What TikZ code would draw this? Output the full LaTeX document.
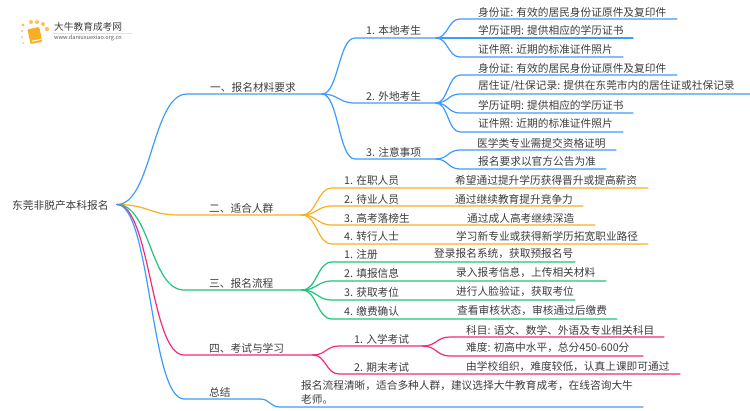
\documentclass[tikz,border=0pt]{standalone}
\usepackage{fontspec}
\setmainfont{Noto Sans CJK SC}
\usepackage{tikz}
\usetikzlibrary{calc}
\definecolor{blueline}{HTML}{3D9BFF}
\definecolor{orangeline}{HTML}{F9AE23}
\definecolor{greenline}{HTML}{1EC47E}
\definecolor{pinkline}{HTML}{F5287A}
\definecolor{labelgray}{HTML}{3C3C3C}
\tikzset{
	label/.style={anchor=west, inner sep=0pt, text=labelgray, font=\fontsize{10.7}{14}\selectfont},
	branchline/.style={line width=1.2pt, line cap=round}
}
\def\branch[#1](#2)(#3)(#4){\draw[branchline, color=#1] let \p1=(#2), \p2=(#3) in (#2) .. controls ({0.5*\x1+0.5*\x2}, \y1) and ({0.5*\x1+0.5*\x2}, \y2) .. (#3) -- (#4);}
\begin{document}
\begin{tikzpicture}[x=1pt, y=-1pt]
		\useasboundingbox (0, 0) rectangle (750, 410);
		
		%%%%% LOGO %%%%%
		\fill[orangeline, rotate around={12:(35, 36)}, rounded corners=1pt] (29, 28) rectangle (41, 43);
		\fill[white, rotate around={12:(35, 36)}] (31, 40) rectangle (41, 41);
		\foreach \dx/\dy/\dr in {23/25/1.6, 31/22/2, 37/22/2, 43/24/2, 47/29/2.2, 22/31/1.2, 22/37/1, 23/43/1}
			\fill[color=orangeline!75] (\dx, \dy) circle (\dr pt);
		\node[label, font=\fontsize{9.7}{12}\selectfont] (logotitle) at (54, 27) {大牛教育成考网};
		\node[label, font=\fontsize{5.6}{7}\selectfont, text=black!65] (logourl) at (54, 38) {www.daniuxuexiao.org.cn};
		\fill[black!12] (54, 33) rectangle (132, 33.5);
		
		%%%%% ROOT %%%%%
		\node[label] (root) at (12, 205) {东莞非脱产本科报名};
		\coordinate (rootend) at (117, 204.5);
		
		%%%%% ONE %%%%%
		\node[label] (one) at (210, 87) {一、报名材料要求};
		\coordinate (oneleft) at (187, 94);
		\coordinate (oneright) at (322, 94);
		\branch[blueline](rootend)(oneleft)(oneright);
		
		\node[label] (onea) at (366, 30) {1. 本地考生};
		\coordinate (onealeft) at (355, 38);
		\coordinate (onearight) at (436, 38);
		\branch[blueline](oneright)(onealeft)(onearight);
		\node[label] (oneb) at (366, 96) {2. 外地考生};
		\coordinate (oneblft) at (355, 103);
		\coordinate (onebright) at (436, 103);
		\branch[blueline](oneright)(oneblft)(onebright);
		\node[label] (onec) at (366, 152) {3. 注意事项};
		\coordinate (oneclft) at (355, 159);
		\coordinate (onecright) at (436, 159);
		\branch[blueline](oneright)(oneclft)(onecright);
		
		\node[label] (aa) at (478, 12) {身份证: 有效的居民身份证原件及复印件};
		\coordinate (aal) at (460, 19);
		\coordinate (aar) at (677, 19);
		\branch[blueline](onearight)(aal)(aar);
		\node[label] (ab) at (478, 30.5) {学历证明: 提供相应的学历证书};
		\coordinate (abl) at (460, 38);
		\coordinate (abr) at (633, 38);
		\branch[blueline](onearight)(abl)(abr);
		\node[label] (ac) at (478, 49) {证件照: 近期的标准证件照片};
		\coordinate (acl) at (460, 57);
		\coordinate (acr) at (623, 57);
		\branch[blueline](onearight)(acl)(acr);
		
		\node[label] (ba) at (478, 68) {身份证: 有效的居民身份证原件及复印件};
		\coordinate (bal) at (460, 75);
		\coordinate (bar) at (677, 75);
		\branch[blueline](onebright)(bal)(bar);
		\node[label] (bb) at (478, 86) {居住证/社保记录: 提供在东莞市内的居住证或社保记录};
		\coordinate (bbl) at (460, 94);
		\coordinate (bbr) at (750, 94);
		\branch[blueline](onebright)(bbl)(bbr);
		\node[label] (bc) at (478, 105) {学历证明: 提供相应的学历证书};
		\coordinate (bcl) at (460, 113);
		\coordinate (bcr) at (633, 113);
		\branch[blueline](onebright)(bcl)(bcr);
		\node[label] (bd) at (478, 123.5) {证件照: 近期的标准证件照片};
		\coordinate (bdl) at (460, 132);
		\coordinate (bdr) at (623, 132);
		\branch[blueline](onebright)(bdl)(bdr);
		
		\node[label] (ca) at (477, 143) {医学类专业需提交资格证明};
		\coordinate (cal) at (460, 150);
		\coordinate (car) at (616, 150);
		\branch[blueline](onecright)(cal)(car);
		\node[label] (cb) at (478, 161.5) {报名要求以官方公告为准};
		\coordinate (cbl) at (460, 169);
		\coordinate (cbr) at (606, 169);
		\branch[blueline](onecright)(cbl)(cbr);
		
		%%%%% TWO %%%%%
		\node[label] (two) at (209, 208) {二、适合人群};
		\coordinate (twoleft) at (180, 215);
		\coordinate (tworight) at (302, 215);
		\branch[orangeline](rootend)(twoleft)(tworight);
		
		\node[label] (twoa) at (344, 180) {1. 在职人员};
		\node[label] (twoat) at (455, 180) {希望通过提升学历获得晋升或提高薪资};
		\coordinate (twoal) at (332, 188);
		\coordinate (twoar) at (648, 188);
		\branch[orangeline](tworight)(twoal)(twoar);
		\node[label] (twob) at (344, 199) {2. 待业人员};
		\node[label] (twobt) at (455, 199) {通过继续教育提升竞争力};
		\coordinate (twobl) at (332, 206);
		\coordinate (twobr) at (583, 206);
		\branch[orangeline](tworight)(twobl)(twobr);
		\node[label] (twoc) at (344, 218) {3. 高考落榜生};
		\node[label] (twoct) at (467, 218) {通过成人高考继续深造};
		\coordinate (twocl) at (332, 225);
		\coordinate (twocr) at (595, 225);
		\branch[orangeline](tworight)(twocl)(twocr);
		\node[label] (twod) at (344, 236) {4. 转行人士};
		\node[label] (twodt) at (456, 236) {学习新专业或获得新学历拓宽职业路径};
		\coordinate (twodl) at (332, 244);
		\coordinate (twodr) at (648, 244);
		\branch[orangeline](tworight)(twodl)(twodr);
		
		%%%%% THREE %%%%%
		\node[label] (three) at (209, 283) {三、报名流程};
		\coordinate (threeleft) at (184, 290);
		\coordinate (threeright) at (302, 290);
		\branch[greenline](rootend)(threeleft)(threeright);
		
		\node[label] (threea) at (344, 254) {1. 注册};
		\node[label] (threeat) at (434, 254) {登录报名系统，获取预报名号};
		\coordinate (threeal) at (332, 262);
		\coordinate (threear) at (575, 262);
		\branch[greenline](threeright)(threeal)(threear);
		\node[label] (threeb) at (344, 273) {2. 填报信息};
		\node[label] (threebt) at (456, 273) {录入报考信息，上传相关材料};
		\coordinate (threebl) at (332, 281);
		\coordinate (threebr) at (606, 281);
		\branch[greenline](threeright)(threebl)(threebr);
		\node[label] (threec) at (344, 292) {3. 获取考位};
		\node[label] (threect) at (456, 292) {进行人脸验证，获取考位};
		\coordinate (threecl) at (332, 300);
		\coordinate (threecr) at (575, 300);
		\branch[greenline](threeright)(threecl)(threecr);
		\node[label] (threed) at (344, 311) {4. 缴费确认};
		\node[label] (threedt) at (457, 311) {查看审核状态，审核通过后缴费};
		\coordinate (threedl) at (332, 319);
		\coordinate (threedr) at (617, 319);
		\branch[greenline](threeright)(threedl)(threedr);
		
		%%%%% FOUR %%%%%
		\node[label] (four) at (209, 348) {四、考试与学习};
		\coordinate (fourleft) at (184, 355);
		\coordinate (fourright) at (313, 355);
		\branch[pinkline](rootend)(fourleft)(fourright);
		
		\node[label] (foura) at (354, 339) {1. 入学考试};
		\coordinate (fouraleft) at (339, 346);
		\coordinate (fouraright) at (423, 346);
		\branch[pinkline](fourright)(fouraleft)(fouraright);
		\node[label] (fourb) at (354, 367) {2. 期末考试};
		\node[label] (fourbt) at (466, 367) {由学校组织，难度较低，认真上课即可通过};
		\coordinate (fourbl) at (339, 374);
		\coordinate (fourbr) at (680, 374);
		\branch[pinkline](fourright)(fourbl)(fourbr);
		
		\node[label] (fouraa) at (466, 330) {科目: 语文、数学、外语及专业相关科目};
		\coordinate (fouraal) at (450, 337);
		\coordinate (fouraar) at (664, 337);
		\branch[pinkline](fouraright)(fouraal)(fouraar);
		\node[label] (fourab) at (466, 348) {难度: 初高中水平，总分450-600分};
		\coordinate (fourabl) at (450, 356);
		\coordinate (fourabr) at (643, 356);
		\branch[pinkline](fouraright)(fourabl)(fourabr);
		
		%%%%% SUMMARY %%%%%
		\node[label] (summary) at (209, 392) {总结};
		\coordinate (sumleft) at (184, 399);
		\coordinate (sumright) at (260, 399);
		\branch[blueline](rootend)(sumleft)(sumright);
		\node[label, align=left] (sumtext) at (301, 392) {报名流程清晰，适合多种人群，建议选择大牛教育成考，在线咨询大牛\\老师。};
		\coordinate (sumtl) at (280, 407);
		\coordinate (sumtr) at (643, 407);
		\branch[blueline](sumright)(sumtl)(sumtr);
		
		%%%%% END %%%%%
	\end{tikzpicture}
\end{document}
